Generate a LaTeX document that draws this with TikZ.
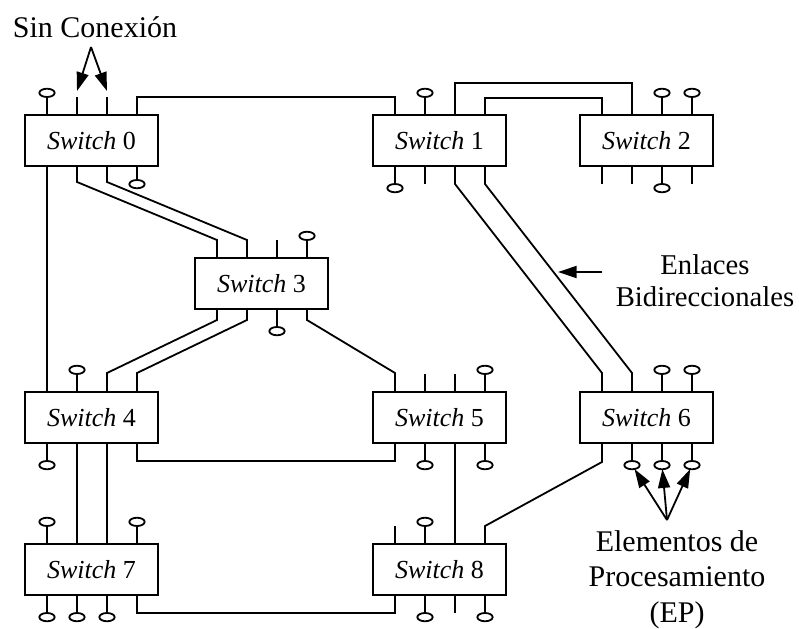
\documentclass[tikz,border=0pt]{standalone}
\usepackage{fontspec}
\setmainfont{Liberation Serif}
\usetikzlibrary{calc,shapes.geometric,arrows.meta}

\tikzset{
  wire/.style={line width=1.35pt, line join=miter},
  swbox/.style={draw, line width=1.35pt, rectangle, minimum width=99.75pt,
    minimum height=38.25pt, inner sep=0pt, outer sep=0pt, anchor=north west,
    font=\fontsize{19.5}{22}\selectfont},
  pe/.style={draw, line width=1.35pt, ellipse, minimum width=11.5pt,
    minimum height=6.2pt, inner sep=0pt, outer sep=0pt},
  callout/.style={line width=1.35pt, -{Triangle[length=14pt,width=9pt]}},
  note/.style={font=\fontsize{22.5}{26.5}\selectfont, align=center, inner sep=0pt}
}

% four port positions on the top and bottom edge of a switch
\newcommand\mkports[1]{%
  \foreach \i in {1,2,3,4}{%
    \coordinate (#1-t\i) at ($(#1.north west)+({22+30*(\i-1)},0)$);
    \coordinate (#1-b\i) at ($(#1.south west)+({22+30*(\i-1)},0)$);
  }}
% processing element (ellipse on a short lead) above / below a port
\newcommand\peup[1]{\draw[wire] (#1) -- ++(0,-18) node[pe, anchor=south] (#1e) {};}
\newcommand\pedown[2][18]{\draw[wire] (#2) -- ++(0,#1) node[pe, anchor=north] (#2e) {};}
% unconnected port lead
\newcommand\stubup[1]{\draw[wire] (#1) -- ++(0,-18) coordinate (#1x);}
\newcommand\stubdown[1]{\draw[wire] (#1) -- ++(0,18) coordinate (#1x);}

\begin{document}
\begin{tikzpicture}[x=0.75pt, y=-0.75pt]
\useasboundingbox (0,0) rectangle (799,628);

% switches
\node[swbox] (s0) at (25,115)  {\textit{Switch} 0};
\node[swbox] (s1) at (373,115) {\textit{Switch} 1};
\node[swbox] (s2) at (580,115) {\textit{Switch} 2};
\node[swbox] (s3) at (195,258) {\textit{Switch} 3};
\node[swbox] (s4) at (25,392)  {\textit{Switch} 4};
\node[swbox] (s5) at (373,392) {\textit{Switch} 5};
\node[swbox] (s6) at (580,392) {\textit{Switch} 6};
\node[swbox] (s7) at (25,544)  {\textit{Switch} 7};
\node[swbox] (s8) at (373,544) {\textit{Switch} 8};
\foreach \s in {s0,s1,s2,s3,s4,s5,s6,s7,s8}{\mkports{\s}}

% processing elements and free ports
\peup{s0-t1} \stubup{s0-t2} \stubup{s0-t3} \pedown[14]{s0-b4}
\peup{s1-t2} \pedown{s1-b1} \stubdown{s1-b2}
\peup{s2-t3} \peup{s2-t4} \stubdown{s2-b1} \stubdown{s2-b2} \pedown{s2-b3} \stubdown{s2-b4}
\stubup{s3-t3} \peup{s3-t4} \pedown{s3-b3}
\peup{s4-t2} \pedown{s4-b1}
\stubup{s5-t2} \stubup{s5-t3} \peup{s5-t4} \pedown{s5-b2} \pedown{s5-b4}
\peup{s6-t3} \peup{s6-t4} \pedown{s6-b2} \pedown{s6-b3} \pedown{s6-b4}
\peup{s7-t1} \peup{s7-t4} \pedown{s7-b1} \pedown{s7-b2} \pedown{s7-b3}
\stubup{s8-t1} \peup{s8-t2} \pedown{s8-b2} \stubdown{s8-b3} \pedown{s8-b4}

% links between switches
\draw[wire] (s0-t4) -- ++(0,-18) -| (s1-t1);
\draw[wire] (s1-t3) -- ++(0,-32) -| (s2-t2);
\draw[wire] (s1-t4) -- ++(0,-17) -| (s2-t1);
\draw[wire] (s0-b1) -- (s4-t1);
\draw[wire] (s0-b2) -- ++(0,16) -- ($(s3-t1)+(0,-18)$) -- (s3-t1);
\draw[wire] (s0-b3) -- ++(0,16) -- ($(s3-t2)+(0,-18)$) -- (s3-t2);
\draw[wire] (s3-b1) -- ++(0,11) -- ($(s4-t3)+(0,-19)$) -- (s4-t3);
\draw[wire] (s3-b2) -- ++(0,11) -- ($(s4-t4)+(0,-19)$) -- (s4-t4);
\draw[wire] (s3-b4) -- ++(0,11) -- ($(s5-t1)+(0,-19)$) -- (s5-t1);
\draw[wire] (s1-b3) -- ++(0,18) -- ($(s6-t1)+(0,-19)$) -- (s6-t1);
\draw[wire] (s1-b4) -- ++(0,18) -- ($(s6-t2)+(0,-19)$) -- (s6-t2);
\draw[wire] (s4-b2) -- (s7-t2);
\draw[wire] (s4-b3) -- (s7-t3);
\draw[wire] (s4-b4) -- ++(0,18) -| (s5-b1);
\draw[wire] (s5-b3) -- (s8-t3);
\draw[wire] (s6-b1) -- ++(0,19) -- ($(s8-t4)+(0,-18)$) -- (s8-t4);
\draw[wire] (s7-b4) -- ++(0,18) -| (s8-b1);

% annotations (a multi-line node's base is its last line)
\node[note, anchor=base] (nc) at (95,37) {Sin Conexión};
\coordinate (ncapex) at (91,47);
\draw[callout] (ncapex) -- ($(s0-t2x)+(0,-6)$);
\draw[callout] (ncapex) -- ($(s0-t3x)+(0,-6)$);

\node[note, font=\fontsize{21.5}{23.5}\selectfont, anchor=base] (bl) at (705,306)
  {Enlaces\\Bidireccionales};
\coordinate (bltail) at (602,272);
\coordinate (blhead) at (558,272);
\draw[callout] (bltail) -- (blhead);

\node[note, anchor=base] (ep) at (677,622) {Elementos de\\Procesamiento\\(EP)};
\coordinate (epapex) at (667,520);
\draw[callout] (epapex) -- (s6-b2e);
\draw[callout] (epapex) -- (s6-b3e);
\draw[callout] (epapex) -- (s6-b4e);
\end{tikzpicture}
\end{document}
